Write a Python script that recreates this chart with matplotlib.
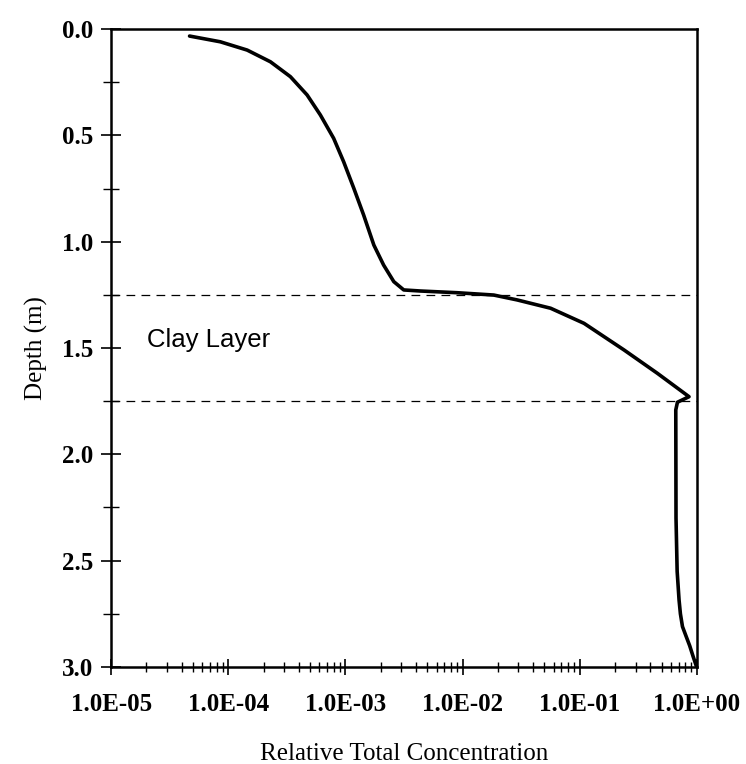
import matplotlib
matplotlib.use("Agg")
import matplotlib.pyplot as plt
from matplotlib.ticker import LogLocator, FixedLocator, NullFormatter

# Data
depth = [0.033, 0.060, 0.099, 0.154, 0.224, 0.310, 0.404, 0.514, 0.624,
         0.749, 0.874, 1.016, 1.110, 1.188, 1.227, 1.232, 1.240, 1.251,
         1.274, 1.313, 1.384, 1.509, 1.619, 1.729, 1.755, 1.791,
         2.30, 2.55, 2.685, 2.75, 2.81, 2.855, 2.90, 2.95, 2.995]
concentration = [4.67e-5, 8.55e-5, 1.45e-4, 2.29e-4, 3.39e-4, 4.71e-4,
                 6.11e-4, 7.94e-4, 9.66e-4, 1.18e-3, 1.43e-3, 1.75e-3,
                 2.12e-3, 2.59e-3, 3.15e-3, 4.38e-3, 9.0e-3, 1.85e-2,
                 2.93e-2, 5.65e-2, 0.109, 0.239, 0.461, 0.859, 0.684, 0.662,
                 0.665, 0.68, 0.706, 0.725, 0.755, 0.81, 0.87, 0.93, 0.99]
clay_bounds = [1.25, 1.75]
x_ticks = [1e-5, 1e-4, 1e-3, 1e-2, 1e-1, 1e0]
x_tick_labels = ["1.0E-05", "1.0E-04", "1.0E-03", "1.0E-02", "1.0E-01", "1.0E+00"]
y_ticks = [0.0, 0.5, 1.0, 1.5, 2.0, 2.5, 3.0]
y_tick_labels = ["0.0", "0.5", "1.0", "1.5", "2.0", "2.5", "3.0"]
y_minor = [0.25, 0.75, 1.25, 1.75, 2.25, 2.75]

serif = ["Liberation Serif", "DejaVu Serif"]
sans = ["Liberation Sans", "DejaVu Sans"]

fig = plt.figure(figsize=(7.46, 7.64), dpi=100)
ax = fig.add_axes([0.149, 0.127, 0.785, 0.835])

ax.plot(concentration, depth, color="black", lw=2.6,
        solid_joinstyle="round", solid_capstyle="round")
for b in clay_bounds:
    ax.axhline(b, color="black", lw=0.9, ls=(0, (7, 5)))

ax.set_xscale("log")
ax.set_xlim(1e-5, 1.0)
ax.set_ylim(3.0, 0.0)

ax.set_xticks(x_ticks)
ax.set_xticklabels(x_tick_labels, fontfamily=serif, fontsize=18, fontweight="bold")
ax.xaxis.set_minor_locator(LogLocator(base=10, subs=range(2, 10), numticks=20))
ax.xaxis.set_minor_formatter(NullFormatter())

ax.yaxis.set_major_locator(FixedLocator(y_ticks))
ax.set_yticklabels(y_tick_labels, fontfamily=serif, fontsize=18, fontweight="bold")
ax.yaxis.set_minor_locator(FixedLocator(y_minor))

ax.tick_params(axis="x", which="major", direction="inout", length=12, width=1.2, pad=13)
ax.tick_params(axis="x", which="minor", direction="inout", length=7, width=1.0)
ax.tick_params(axis="y", which="major", direction="inout", length=14, width=1.2, pad=6)
ax.tick_params(axis="y", which="minor", direction="inout", length=12, width=1.0)
ax.tick_params(top=False, right=False, which="both")

for s in ax.spines.values():
    s.set_linewidth(1.8)

ax.set_xlabel("Relative Total Concentration", fontfamily=serif, fontsize=18, labelpad=19)
ax.set_ylabel("Depth (m)", fontfamily=serif, fontsize=18, labelpad=10)

ax.text(2.04e-5, 1.462, "Clay Layer", fontfamily=sans, fontsize=18.5, va="center", ha="left")

fig.savefig("out.png", dpi=100)
